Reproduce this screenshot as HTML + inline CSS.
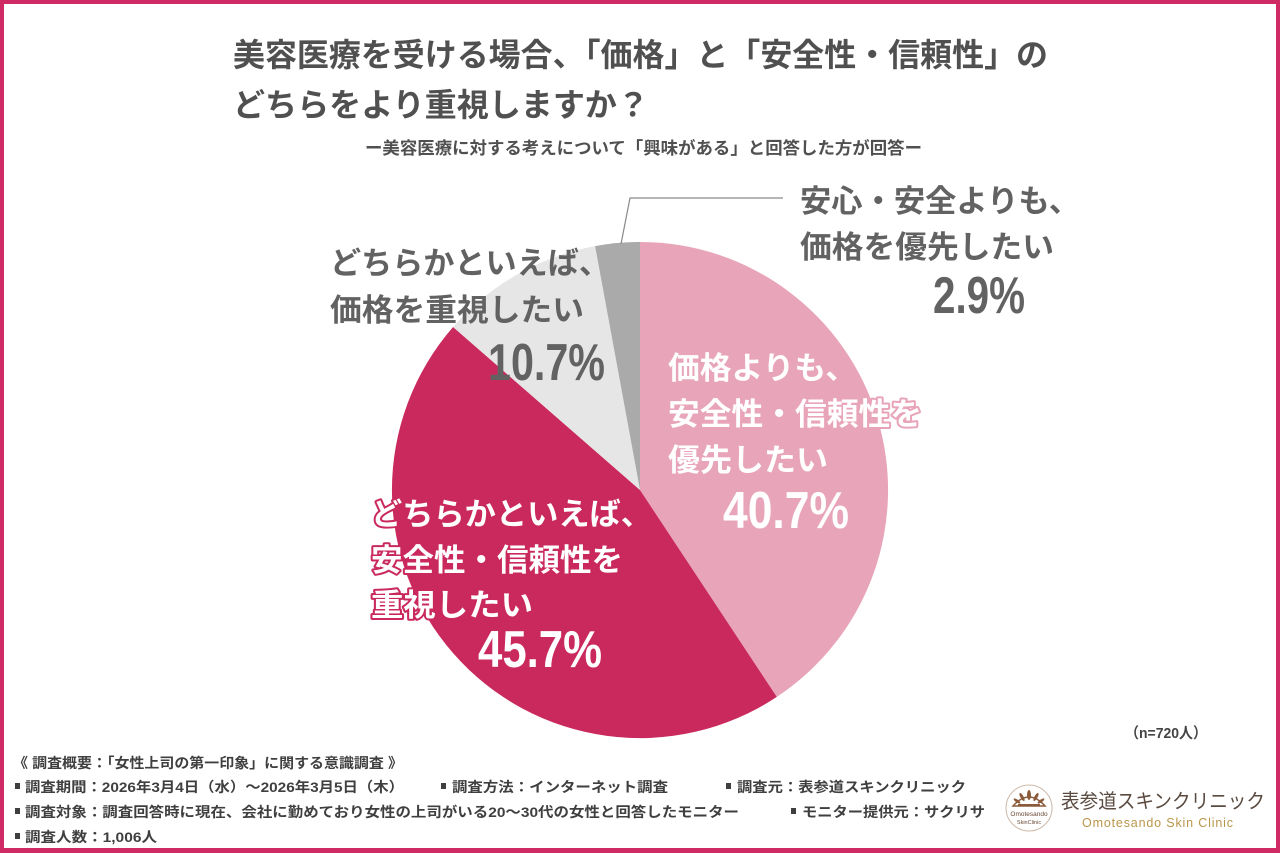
<!DOCTYPE html>
<html><head><meta charset="utf-8">
<style>
html,body{margin:0;padding:0;background:#fff;}
svg{display:block;}
text{font-family:"Liberation Sans","Noto Sans CJK JP",sans-serif;}
</style></head>
<body>
<svg width="1280" height="853" viewBox="0 0 1280 853" xmlns="http://www.w3.org/2000/svg">
<rect x="0" y="0" width="1280" height="853" fill="#fff"/>
<!-- border -->
<rect x="2" y="2" width="1276" height="848.5" fill="none" stroke="#CF2A63" stroke-width="4"/>
<rect x="0" y="848" width="1280" height="5" fill="#CF2A63"/>

<!-- title -->
<g fill="#505050" font-weight="700">
<text x="233" y="66" font-size="32" textLength="815" lengthAdjust="spacingAndGlyphs">美容医療を受ける場合、「価格」と「安全性・信頼性」の</text>
<text x="233" y="116" font-size="32" textLength="416" lengthAdjust="spacingAndGlyphs">どちらをより重視しますか？</text>
<text x="365" y="154" font-size="17" textLength="557" lengthAdjust="spacingAndGlyphs">ー美容医療に対する考えについて「興味がある」と回答した方が回答ー</text>
</g>

<!-- pie -->
<path d="M640,490 L640,242 A248,248 0 0,1 776.8,696.9 Z" fill="#E8A5B9"/>
<path d="M640,490 L776.8,696.9 A248,248 0 0,1 453.1,327.0 Z" fill="#C9295C"/>
<path d="M640,490 L453.1,327.0 A248,248 0 0,1 595.1,246.1 Z" fill="#E6E6E6"/>
<path d="M640,490 L595.1,246.1 A248,248 0 0,1 640,242 Z" fill="#AAAAAA"/>

<!-- leader line -->
<polyline points="621,244 630,198 783,198" fill="none" stroke="#8a8a8a" stroke-width="1.2"/>

<!-- gray label top right -->
<g fill="#626262" font-weight="700" font-size="31">
<text x="800" y="212" textLength="280" lengthAdjust="spacingAndGlyphs">安心・安全よりも、</text>
<text x="800" y="258" textLength="254" lengthAdjust="spacingAndGlyphs">価格を優先したい</text>
</g>
<text x="933" y="313" font-size="52" font-weight="700" fill="#626262" textLength="92" lengthAdjust="spacingAndGlyphs">2.9%</text>

<!-- gray label left -->
<g fill="#626262" font-weight="700" font-size="31">
<text x="330" y="274" textLength="280" lengthAdjust="spacingAndGlyphs">どちらかといえば、</text>
<text x="330" y="321" textLength="254" lengthAdjust="spacingAndGlyphs">価格を重視したい</text>
</g>
<text x="488" y="380" font-size="52" font-weight="700" fill="#626262" textLength="117" lengthAdjust="spacingAndGlyphs">10.7%</text>

<!-- pink label -->
<g fill="#fff" stroke="#E8A5B9" stroke-width="4" stroke-linejoin="round" paint-order="stroke" font-weight="700" font-size="31">
<text x="668" y="379" textLength="189" lengthAdjust="spacingAndGlyphs">価格よりも、</text>
<text x="668" y="425" textLength="254" lengthAdjust="spacingAndGlyphs">安全性・信頼性を</text>
<text x="668" y="471" textLength="160" lengthAdjust="spacingAndGlyphs">優先したい</text>
<text x="723" y="528" font-size="52" textLength="126" lengthAdjust="spacingAndGlyphs">40.7%</text>
</g>

<!-- crimson label -->
<g fill="#fff" stroke="#C9295C" stroke-width="4" stroke-linejoin="round" paint-order="stroke" font-weight="700" font-size="31">
<text x="371" y="525" textLength="281" lengthAdjust="spacingAndGlyphs">どちらかといえば、</text>
<text x="371" y="571" textLength="252" lengthAdjust="spacingAndGlyphs">安全性・信頼性を</text>
<text x="371" y="616" textLength="162" lengthAdjust="spacingAndGlyphs">重視したい</text>
<text x="478" y="667" font-size="52" textLength="124" lengthAdjust="spacingAndGlyphs">45.7%</text>
</g>

<!-- n -->
<text x="1125" y="738" font-size="15" font-weight="700" fill="#444" textLength="82" lengthAdjust="spacingAndGlyphs">（n=720人）</text>

<!-- footer -->
<g fill="#3f3f3f" font-weight="700" font-size="14">
<text x="13" y="768" textLength="390" lengthAdjust="spacingAndGlyphs">《 調査概要：「女性上司の第一印象」に関する意識調査 》</text>
<rect x="15" y="783" width="5" height="6" fill="#3f3f3f"/>
<text x="25" y="792" textLength="379" lengthAdjust="spacingAndGlyphs">調査期間：2026年3月4日（水）～2026年3月5日（木）</text>
<rect x="441" y="783" width="5" height="6" fill="#3f3f3f"/>
<text x="452" y="792" textLength="216" lengthAdjust="spacingAndGlyphs">調査方法：インターネット調査</text>
<rect x="726" y="783" width="5" height="6" fill="#3f3f3f"/>
<text x="737" y="792" textLength="229" lengthAdjust="spacingAndGlyphs">調査元：表参道スキンクリニック</text>
<rect x="15" y="808" width="5" height="6" fill="#3f3f3f"/>
<text x="25" y="817" textLength="714" lengthAdjust="spacingAndGlyphs">調査対象：調査回答時に現在、会社に勤めており女性の上司がいる20～30代の女性と回答したモニター</text>
<rect x="791" y="808" width="5" height="6" fill="#3f3f3f"/>
<text x="802" y="817" textLength="183" lengthAdjust="spacingAndGlyphs">モニター提供元：サクリサ</text>
<rect x="15" y="833" width="5" height="6" fill="#3f3f3f"/>
<text x="25" y="842" textLength="132" lengthAdjust="spacingAndGlyphs">調査人数：1,006人</text>
</g>

<!-- logo -->
<g>
<circle cx="1029" cy="808" r="23" fill="#fff" stroke="#cdb8a8" stroke-width="1"/>
<g fill="#8a5a3a">
<path d="M1013,806 Q1029,788 1045,806 Z" fill="none" stroke="#8a5a3a" stroke-width="1.5"/>
<ellipse cx="1029" cy="795" rx="2" ry="5"/>
<ellipse cx="1022" cy="797" rx="1.6" ry="4.5" transform="rotate(-30 1022 797)"/>
<ellipse cx="1036" cy="797" rx="1.6" ry="4.5" transform="rotate(30 1036 797)"/>
<ellipse cx="1017" cy="801" rx="1.4" ry="4" transform="rotate(-55 1017 801)"/>
<ellipse cx="1041" cy="801" rx="1.4" ry="4" transform="rotate(55 1041 801)"/>
<rect x="1018" y="804" width="22" height="2"/>
</g>
<text x="1029" y="816" font-size="6.5" text-anchor="middle" fill="#6b4a36" font-family="Liberation Serif, serif">Omotesando</text>
<text x="1029" y="824" font-size="5.5" text-anchor="middle" fill="#6b4a36" font-family="Liberation Serif, serif">SkinClinic</text>
<text x="1061" y="808" font-size="20" fill="#5a4a40" font-family="'Liberation Serif','Noto Serif CJK SC',serif" textLength="204" lengthAdjust="spacingAndGlyphs">表参道スキンクリニック</text>
<text x="1082" y="827" font-size="12.5" fill="#B8964A" font-family="'Liberation Sans',sans-serif" textLength="151" lengthAdjust="spacing">Omotesando Skin Clinic</text>
</g>
</svg>
</body></html>
